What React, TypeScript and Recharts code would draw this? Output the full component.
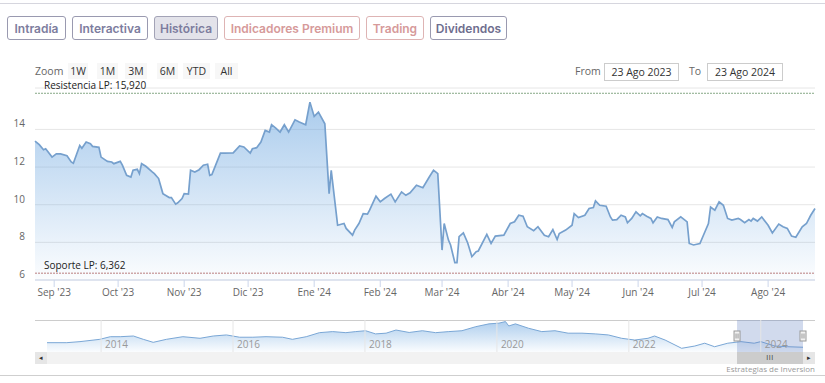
import React from "react";
import {
  AreaChart,
  Area,
  XAxis,
  YAxis,
  CartesianGrid,
  ReferenceLine,
  ReferenceArea,
} from "recharts";

const FONT = "'Open Sans', 'Noto Sans', sans-serif";
const TAB_FONT = "Inter, 'Noto Sans', sans-serif";
const DAY = 86400000;
const START = Date.UTC(2023, 7, 23);

// days since 23 Ago 2023 and closing price
const dayOffsets = [
  0, 2, 4, 5, 8, 10, 12, 15, 17, 18, 21, 22, 24, 26, 27, 30, 31, 34, 36, 37,
  40, 41, 43, 45, 46, 48, 49, 50, 52, 55, 56, 58, 60, 63, 64, 66, 67, 69, 70, 72,
  73, 75, 77, 79, 81, 82, 83, 87, 89, 93, 96, 98, 101, 102, 104, 106, 108, 110, 111, 113,
  115, 117, 119, 122, 124, 127, 129, 131, 133, 136, 138, 139, 141, 142, 145, 146, 149, 150, 152, 154,
  156, 157, 160, 162, 164, 167, 169, 172, 174, 176, 179, 182, 185, 187, 188, 189, 191, 192, 194, 195,
  197, 198, 199, 201, 203, 205, 207, 208, 212, 214, 216, 220, 223, 225, 227, 229, 231, 234, 236, 239,
  241, 243, 245, 246, 249, 252, 253, 255, 258, 260, 262, 263, 265, 268, 270, 271, 273, 275, 277, 278,
  280, 282, 284, 285, 287, 289, 290, 292, 294, 297, 299, 300, 303, 306, 307, 309, 312, 314, 316, 317,
  319, 321, 323, 325, 327, 330, 331, 333, 335, 336, 337, 339, 341, 344, 346, 349, 351, 353, 355, 357,
  360, 362, 364, 366,
];
const prices = [
  13.38, 13.19, 12.92, 12.97, 12.53, 12.7, 12.7, 12.6, 12.27, 12.2, 13.15, 13.0, 13.33, 13.24, 13.1, 13.05, 12.53, 12.3, 12.27, 12.18,
  12.3, 12.1, 11.56, 11.47, 11.83, 11.88, 11.65, 12.18, 12.04, 11.74, 11.65, 11.39, 10.59, 10.38, 10.38, 10.03, 10.1, 10.33, 10.59, 10.56,
  11.83, 11.74, 11.86, 12.1, 12.15, 11.56, 11.6, 12.74, 12.74, 12.75, 13.12, 13.07, 12.74, 12.97, 13.03, 13.33, 13.95, 13.86, 14.25, 14.07,
  13.86, 14.25, 13.86, 14.51, 14.39, 14.25, 15.45, 14.69, 14.92, 14.3, 10.59, 11.83, 9.88, 8.91, 9.0, 8.74, 8.38, 8.65, 9.0, 9.53,
  9.5, 9.71, 10.45, 10.15, 10.33, 10.56, 10.15, 10.68, 10.5, 10.63, 11.03, 10.9, 11.47, 11.83, 11.74, 11.65, 7.59, 9.0, 8.12, 7.86,
  6.92, 6.92, 8.3, 8.5, 7.98, 7.24, 7.5, 7.54, 8.42, 7.94, 8.33, 8.38, 9.0, 9.09, 9.44, 9.39, 8.83, 8.62, 8.83, 8.38,
  8.3, 8.68, 8.15, 8.47, 8.65, 8.91, 9.53, 9.32, 9.44, 9.8, 9.85, 10.2, 9.97, 9.92, 9.35, 9.18, 9.21, 9.44, 9.35, 9.04,
  9.27, 9.62, 9.41, 9.53, 9.39, 9.27, 9.04, 9.35, 9.27, 9.21, 8.79, 9.09, 9.35, 9.09, 7.94, 7.86, 7.94, 8.47, 9.0, 9.88,
  9.71, 10.15, 9.97, 9.27, 9.18, 9.27, 9.21, 9.04, 9.21, 9.13, 9.27, 9.13, 9.35, 8.91, 8.5, 8.97, 8.83, 8.74, 8.33, 8.27,
  8.83, 9.0, 9.44, 9.8,
];

const monthTicks = [
  "2023-09-01", "2023-10-01", "2023-11-01", "2023-12-01", "2024-01-01", "2024-02-01",
  "2024-03-01", "2024-04-01", "2024-05-01", "2024-06-01", "2024-07-01", "2024-08-01",
];
const monthLabels = [
  "Sep '23", "Oct '23", "Nov '23", "Dic '23", "Ene '24", "Feb '24",
  "Mar '24", "Abr '24", "May '24", "Jun '24", "Jul '24", "Ago '24",
];
const yTicks = [6, 8, 10, 12, 14];
const resistance = 15.92;
const support = 6.362;

// navigator: long history (year fraction, price)
const navYears = [
  2013.18, 2013.48, 2013.68, 2013.98, 2014.14, 2014.29, 2014.49, 2014.64, 2014.79, 2014.99,
  2015.24, 2015.5, 2015.7, 2015.9, 2016.1, 2016.3, 2016.5, 2016.75, 2016.9, 2017.11,
  2017.31, 2017.51, 2017.71, 2017.86, 2018.01, 2018.16, 2018.32, 2018.47, 2018.67, 2018.87,
  2019.07, 2019.27, 2019.47, 2019.68, 2019.88, 2020.03, 2020.13, 2020.18, 2020.28, 2020.48,
  2020.68, 2020.88, 2021.08, 2021.29, 2021.49, 2021.69, 2021.89, 2022.09, 2022.29, 2022.39,
  2022.55, 2022.8, 2023.0, 2023.15, 2023.3, 2023.5, 2023.7, 2023.9, 2024.0, 2024.21,
  2024.41, 2024.64,
];
const navPrices = [
  12.3, 12.3, 12.9, 14.2, 15.7, 15.7, 16.1, 14.2, 12.5, 14.2,
  15.7, 14.8, 16.1, 16.7, 15.4, 15.4, 15.7, 15.4, 14.2, 15.7,
  18.0, 18.6, 18.0, 18.6, 19.1, 17.3, 17.7, 19.5, 18.1, 19.1,
  18.0, 18.6, 19.1, 21.4, 23.0, 23.4, 24.3, 21.8, 23.0, 20.5,
  18.6, 19.1, 17.7, 17.7, 17.3, 16.7, 14.8, 13.8, 14.8, 16.1,
  13.8, 9.1, 10.4, 12.0, 10.0, 12.0, 12.9, 12.0, 12.9, 10.4,
  10.0, 9.7,
];
const navTicks = [2014, 2016, 2018, 2020, 2022, 2024];
const selection = [2023.64, 2024.64];

const tabLabels = ["Intradía", "Interactiva", "Histórica", "Indicadores Premium", "Trading", "Dividendos"];
const zoomLabels = ["1W", "1M", "3M", "6M", "YTD", "All"];
const fromDate = "23 Ago 2023";
const toDate = "23 Ago 2024";

const mainData = dayOffsets.map((d, i) => ({ t: START + d * DAY, price: prices[i] }));
const monthTickValues = monthTicks.map((s) => Date.parse(s));
const navData = navYears.map((y, i) => ({ year: y, price: navPrices[i] }));

const tabStyles = [
  { width: 59, color: "#7d7d9e", border: "#9a9ab0", bg: "#fff" },
  { width: 76, color: "#7d7d9e", border: "#9a9ab0", bg: "#fff" },
  { width: 64, color: "#7d7d9e", border: "#a3a3b6", bg: "#e3e3ea" },
  { width: 136, color: "#d69a9a", border: "#deb4b4", bg: "#fff" },
  { width: 58, color: "#d69a9a", border: "#deb4b4", bg: "#fff" },
  { width: 77, color: "#6e6e8e", border: "#9a9ab0", bg: "#fff" },
];
const zoomBoxes = [
  { left: 68, width: 20 },
  { left: 97, width: 21 },
  { left: 125, width: 22 },
  { left: 157, width: 21 },
  { left: 183, width: 27 },
  { left: 215, width: 23 },
];

function YTick({ x, y, payload }: any) {
  return (
    <text x={x} y={y - 2} textAnchor="end" fill="#666" fontSize={10} fontFamily={FONT}>
      {payload.value}
    </text>
  );
}

function LineLabel({ viewBox, text }: any) {
  return (
    <text x={viewBox.x + 9} y={viewBox.y - 4} fill="#222" fontSize={10} fontFamily={FONT}>
      {text}
    </text>
  );
}

function NavLabel({ viewBox, text }: any) {
  return (
    <text x={viewBox.x + 4} y={viewBox.y + 28} fill="#999" fontSize={10} fontFamily={FONT}>
      {text}
    </text>
  );
}

function Handle({ viewBox }: any) {
  const cx = viewBox.x;
  return (
    <g>
      <rect x={cx - 3} y={11} width={6} height={10} fill="#f2f2f2" stroke="#999" strokeWidth={1} />
      <line x1={cx - 1} x2={cx - 1} y1={13.5} y2={18.5} stroke="#999" />
      <line x1={cx + 1} x2={cx + 1} y1={13.5} y2={18.5} stroke="#999" />
    </g>
  );
}

const NAV_LEFT = 47;
const NAV_WIDTH = 756;

export default function App() {
  const navMin = navYears[0];
  const navMax = navYears[navYears.length - 1];
  const toPx = (v: number) => NAV_LEFT + ((v - navMin) / (navMax - navMin)) * NAV_WIDTH;
  const thumbL = toPx(selection[0]);
  const thumbR = toPx(selection[1]);

  return (
    <div
      style={{
        position: "absolute",
        left: 0,
        top: 0,
        width: 825,
        height: 383,
        background: "#fff",
        overflow: "hidden",
        fontFamily: FONT,
      }}
    >
      <div style={{ position: "absolute", left: 0, top: 3, width: 825, height: 1, background: "#d6d6de" }} />

      <AreaChart
        width={825}
        height={310}
        data={mainData}
        margin={{ top: 88, right: 10, bottom: 0, left: 0 }}
        style={{ position: "absolute", left: 0, top: 0 }}
      >
        <defs>
          <linearGradient id="mainFill" x1="0" y1="0" x2="0" y2="1">
            <stop offset="0" stopColor="#6aa5df" stopOpacity={0.95} />
            <stop offset="1" stopColor="#6aa5df" stopOpacity={0.04} />
          </linearGradient>
        </defs>
        <CartesianGrid vertical={false} stroke="#e6e6e6" />
        <XAxis
          dataKey="t"
          type="number"
          domain={[START, START + 366 * DAY]}
          ticks={monthTickValues}
          tickFormatter={(v: number) => monthLabels[monthTickValues.indexOf(v)]}
          axisLine={{ stroke: "#ccd6eb" }}
          tickLine={{ stroke: "#ccd6eb" }}
          tickSize={7}
          tickMargin={2}
          tick={{ fill: "#666", fontSize: 10, fontFamily: FONT }}
          height={30}
        />
        <YAxis
          domain={[6, 16.2]}
          ticks={yTicks}
          axisLine={false}
          tickLine={false}
          tickSize={0}
          tickMargin={10}
          width={35}
          tick={<YTick />}
        />
        <Area
          type="linear"
          dataKey="price"
          stroke="#76a0cd"
          strokeWidth={1.7}
          fill="url(#mainFill)"
          dot={false}
          activeDot={false}
          isAnimationActive={false}
        />
        <ReferenceLine
          y={resistance}
          stroke="#86a886"
          strokeDasharray="2 1"
          label={<LineLabel text="Resistencia LP: 15,920" />}
        />
        <ReferenceLine
          y={support}
          stroke="#b97f7f"
          strokeDasharray="2 1"
          label={<LineLabel text="Soporte LP: 6,362" />}
        />
      </AreaChart>

      {/* tabs */}
      <div style={{ position: "absolute", left: 7, top: 16, display: "flex", gap: 6 }}>
        {tabLabels.map((label, i) => (
          <div
            key={label}
            style={{
              width: tabStyles[i].width,
              height: 24,
              boxSizing: "border-box",
              border: `1px solid ${tabStyles[i].border}`,
              borderRadius: 3,
              background: tabStyles[i].bg,
              color: tabStyles[i].color,
              fontFamily: TAB_FONT,
              fontWeight: 600,
              fontSize: 12,
              display: "flex",
              alignItems: "center",
              justifyContent: "center",
              whiteSpace: "nowrap",
            }}
          >
            {label}
          </div>
        ))}
      </div>

      {/* range selector */}
      <div style={{ position: "absolute", left: 35, top: 64, fontSize: 10.5, color: "#666" }}>Zoom</div>
      {zoomLabels.map((label, i) => (
        <div
          key={label}
          style={{
            position: "absolute",
            left: zoomBoxes[i].left,
            top: 63,
            width: zoomBoxes[i].width,
            height: 16,
            background: "#f7f7f7",
            color: "#333",
            fontSize: 10.5,
            display: "flex",
            alignItems: "center",
            justifyContent: "center",
          }}
        >
          {label}
        </div>
      ))}
      <div style={{ position: "absolute", left: 575, top: 64, fontSize: 10.5, color: "#666" }}>From</div>
      <div
        style={{
          position: "absolute",
          left: 604,
          top: 63,
          width: 75,
          height: 18,
          boxSizing: "border-box",
          border: "1px solid #cccccc",
          fontSize: 10.5,
          color: "#333",
          display: "flex",
          alignItems: "center",
          justifyContent: "center",
        }}
      >
        {fromDate}
      </div>
      <div style={{ position: "absolute", left: 689, top: 64, fontSize: 10.5, color: "#666" }}>To</div>
      <div
        style={{
          position: "absolute",
          left: 707,
          top: 63,
          width: 76,
          height: 18,
          boxSizing: "border-box",
          border: "1px solid #cccccc",
          fontSize: 10.5,
          color: "#333",
          display: "flex",
          alignItems: "center",
          justifyContent: "center",
        }}
      >
        {toDate}
      </div>

      {/* navigator */}
      <div style={{ position: "absolute", left: 35, top: 320, width: 780, height: 1, background: "#cccccc" }} />
      <AreaChart
        width={780}
        height={32}
        data={navData}
        margin={{ top: 0, right: 12, bottom: 0, left: 12 }}
        style={{ position: "absolute", left: 35, top: 320 }}
      >
        <defs>
          <linearGradient id="navFill" x1="0" y1="0" x2="0" y2="1">
            <stop offset="0" stopColor="#6aa5df" stopOpacity={0.9} />
            <stop offset="1" stopColor="#6aa5df" stopOpacity={0.05} />
          </linearGradient>
        </defs>
        <XAxis dataKey="year" type="number" domain={[navMin, navMax]} hide />
        <YAxis hide domain={[7, 25.2]} />
        {navTicks.map((yr) => (
          <ReferenceLine key={yr} x={yr} stroke="#e6e6e6" label={<NavLabel text={String(yr)} />} />
        ))}
        <Area
          type="linear"
          dataKey="price"
          stroke="#7aa7d6"
          strokeWidth={1}
          fill="url(#navFill)"
          dot={false}
          activeDot={false}
          isAnimationActive={false}
        />
        <ReferenceArea x1={selection[0]} x2={selection[1]} fill="rgb(102,133,194)" fillOpacity={0.3} stroke="none" />
        <ReferenceLine x={selection[0]} stroke="none" label={<Handle />} />
        <ReferenceLine x={selection[1]} stroke="none" label={<Handle />} />
      </AreaChart>

      {/* scrollbar */}
      <div style={{ position: "absolute", left: 35, top: 352, width: 780, height: 12, background: "#f2f2f2" }} />
      <div
        style={{
          position: "absolute",
          left: thumbL,
          top: 352,
          width: thumbR - thumbL,
          height: 12,
          background: "#cccccc",
          color: "#333",
          fontSize: 7,
          lineHeight: "12px",
          textAlign: "center",
          letterSpacing: 0.5,
        }}
      >
        III
      </div>
      <div style={{ position: "absolute", left: 35, top: 352, width: 12, height: 12, background: "#e6e6e6", fontSize: 7, lineHeight: "12px", textAlign: "center", color: "#333" }}>
        ◂
      </div>
      <div style={{ position: "absolute", left: 803, top: 352, width: 12, height: 12, background: "#e6e6e6", fontSize: 7, lineHeight: "12px", textAlign: "center", color: "#333" }}>
        ▸
      </div>

      <div style={{ position: "absolute", right: 10, top: 363, fontSize: 8, color: "#999" }}>Estrategias de Inversion</div>
      <div style={{ position: "absolute", left: 0, top: 375, width: 825, height: 1, background: "#cfcfcf" }} />
    </div>
  );
}
